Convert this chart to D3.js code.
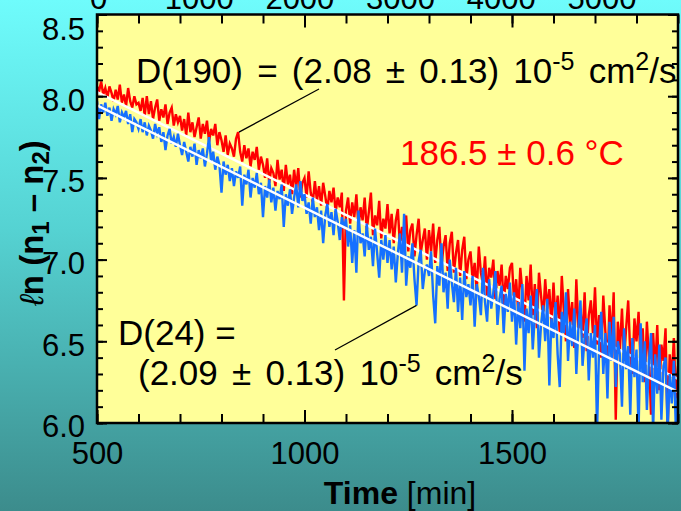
<!DOCTYPE html>
<html>
<head>
<meta charset="utf-8">
<script src="https://cdn.jsdelivr.net/npm/d3@7"></script>
<style>
  html, body { margin: 0; padding: 0; overflow: hidden; }
  svg { display: block; }
</style>
</head>
<body>
<div id="chart"></div>
<script>
// time axis of the measured series [min]
const timeStart = 500;
const timeEnd = 1900;
const timeStep = 5;

// ln(n1 - n2), one value every 5 min
const redValues = [
  8.06, 8.03, 8.09, 8.01, 8.05, 7.99, 8.06, 8.02, 7.97, 8.04, 7.98, 8.07, 7.96, 8.01, 7.94, 8.05, 7.97, 7.93, 8.00, 7.95,
  7.96, 7.91, 7.99, 7.88, 8.00, 7.89, 7.97, 7.86, 7.93, 7.98, 7.85, 7.92, 7.87, 7.95, 7.83, 7.90, 7.93, 7.82, 7.89, 7.84,
  7.88, 7.79, 7.86, 7.76, 7.90, 7.78, 7.84, 7.75, 7.81, 7.87, 7.74, 7.83, 7.77, 7.85, 7.72, 7.80, 7.76, 7.83, 7.70, 7.78,
  7.73, 7.66, 7.76, 7.64, 7.71, 7.68, 7.63, 7.74, 7.78, 7.66, 7.60, 7.70, 7.62, 7.68, 7.57, 7.66, 7.61, 7.69, 7.55, 7.63,
  7.58, 7.50, 7.62, 7.47, 7.56, 7.53, 7.45, 7.61, 7.49, 7.55, 7.42, 7.58, 7.46, 7.52, 7.40, 7.55, 7.44, 7.56, 7.38, 7.47,
  7.50, 7.38, 7.54, 7.41, 7.35, 7.48, 7.36, 7.45, 7.33, 7.47, 7.39, 7.30, 7.42, 7.35, 7.44, 7.29, 7.38, 7.32, 7.41, 6.75,
  7.30, 7.38, 7.22, 7.35, 7.26, 7.40, 7.20, 7.32, 7.24, 7.38, 7.18, 7.29, 7.41, 7.15, 7.27, 7.21, 7.36, 7.13, 7.25, 7.19,
  7.34, 7.16, 7.28, 7.10, 7.24, 7.31, 7.08, 7.20, 7.14, 7.27, 7.05, 7.18, 7.22, 7.02, 7.15, 7.25, 7.04, 7.12, 7.19, 7.00,
  7.18, 7.05, 7.22, 6.98, 7.12, 7.20, 6.96, 7.08, 7.15, 6.93, 7.10, 7.17, 6.92, 7.04, 7.12, 6.90, 7.06, 7.14, 6.88, 7.00,
  7.05, 6.88, 6.98, 6.80, 7.08, 6.92, 6.85, 7.02, 6.78, 6.95, 6.89, 7.00, 6.76, 6.93, 6.84, 6.97, 6.72, 6.90, 6.82, 6.95,
  6.98, 6.74, 6.88, 6.68, 6.95, 6.80, 6.62, 6.90, 6.75, 6.97, 6.66, 6.85, 6.58, 6.92, 6.78, 6.64, 6.88, 6.70, 6.82, 6.60,
  6.86, 6.62, 6.78, 6.55, 6.90, 6.68, 6.50, 6.82, 6.60, 6.74, 6.46, 6.88, 6.58, 6.70, 6.52, 6.80, 6.44, 6.66, 6.75, 6.55,
  6.83, 6.48, 6.66, 6.40, 6.78, 6.56, 6.35, 6.72, 6.50, 6.80, 6.02, 6.62, 6.45, 6.70, 6.38, 6.58, 6.75, 6.42, 6.30, 6.64,
  6.50, 6.68, 6.35, 6.58, 6.25, 6.62, 6.40, 6.05, 6.55, 6.32, 6.60, 6.20, 6.48, 6.38, 6.58, 5.95, 6.42, 6.28, 6.52, 6.15,
  6.35
];

const blueValues = [
  7.97, 7.86, 7.95, 7.90, 7.96, 7.88, 7.93, 7.85, 7.92, 7.89, 7.94, 7.84, 7.90, 7.87, 7.91, 7.83, 7.89, 7.78, 7.86, 7.84,
  7.80, 7.86, 7.78, 7.84, 7.76, 7.82, 7.79, 7.74, 7.83, 7.77, 7.81, 7.72, 7.78, 7.67, 7.76, 7.80, 7.71, 7.75, 7.69, 7.77,
  7.70, 7.64, 7.72, 7.66, 7.60, 7.69, 7.63, 7.71, 7.58, 7.67, 7.62, 7.68, 7.57, 7.65, 7.75, 7.60, 7.66, 7.55, 7.63, 7.58,
  7.41, 7.60, 7.52, 7.58, 7.48, 7.56, 7.45, 7.54, 7.50, 7.57, 7.33, 7.52, 7.46, 7.55, 7.38, 7.50, 7.44, 7.53, 7.40, 7.47,
  7.26, 7.45, 7.38, 7.49, 7.35, 7.44, 7.30, 7.42, 7.37, 7.46, 7.20, 7.40, 7.33, 7.43, 7.28, 7.38, 7.46, 7.32, 7.48, 7.36,
  7.40, 7.28, 7.35, 7.22, 7.38, 7.26, 7.32, 7.18, 7.30, 7.10, 7.27, 7.34, 7.20, 7.29, 7.15, 7.31, 7.23, 7.12, 7.26, 7.19,
  7.25, 7.08, 7.21, 6.98, 7.18, 6.92, 7.30, 7.10, 7.16, 7.02, 7.22, 7.06, 7.14, 6.96, 7.19, 7.04, 6.89, 7.12, 7.00, 7.15,
  6.98, 7.12, 6.94, 7.08, 6.86, 7.04, 7.16, 6.92, 7.28, 6.84, 7.02, 6.95, 7.10, 6.88, 6.72, 6.99, 7.06, 6.82, 6.93, 6.97,
  6.90, 7.05, 6.78, 6.61, 6.96, 6.84, 7.10, 6.80, 6.92, 6.70, 7.00, 6.86, 6.74, 6.95, 6.68, 6.89, 6.63, 6.93, 6.77, 6.85,
  6.72, 6.90, 6.59, 6.85, 6.78, 6.66, 6.95, 6.74, 6.62, 6.88, 6.70, 6.80, 6.93, 6.60, 6.76, 6.84, 6.55, 6.79, 6.68, 6.86,
  6.62, 6.80, 6.48, 6.74, 6.58, 6.85, 6.32, 6.70, 6.55, 6.78, 6.45, 6.66, 6.82, 6.40, 6.60, 6.72, 6.50, 6.76, 6.23, 6.64,
  6.52, 6.74, 6.42, 6.22, 6.68, 6.55, 6.80, 6.38, 6.62, 6.47, 6.70, 6.30, 6.58, 6.75, 6.35, 6.52, 6.64, 6.26, 6.55, 6.40,
  6.60, 5.95, 6.48, 6.68, 6.30, 6.55, 6.15, 6.62, 6.38, 6.65, 6.22, 6.50, 6.42, 6.10, 6.58, 6.33, 6.47, 6.05, 6.52, 6.28,
  6.45, 5.95, 6.61, 6.25, 6.50, 6.08, 6.38, 6.55, 5.95, 6.42, 6.18, 6.48, 6.02, 6.35, 6.40, 5.95, 6.30, 6.12, 6.38, 5.95,
  6.20
];

// straight-line fits (white)
const fitTimes = [500, 1900];
const redFit = [8.025, 6.27];
const blueFit = [7.944, 6.19];

// ticks
const xMajor = [500, 1000, 1500];
const yMajor = [6.0, 6.5, 7.0, 7.5, 8.0, 8.5];
const topLabels = [0, 1000, 2000, 3000, 4000, 5000];

function makeChart(containerSelector) {
    const width = 681, height = 511;
    const plot = { left: 97, right: 678, top: 14.5, bottom: 423 };
    const font = "'Liberation Sans', Arial, Helvetica, sans-serif";

    d3.select(containerSelector).html("");

    const svg = d3.select(containerSelector)
        .append("svg")
        .attr("width", width)
        .attr("height", height)
        .attr("viewBox", `0 0 ${width} ${height}`)
        .attr("xmlns", "http://www.w3.org/2000/svg");

    const defs = svg.append("defs");

    // background gradient, cyan to teal
    const bg = defs.append("linearGradient")
        .attr("id", "bg-gradient")
        .attr("x1", 0).attr("y1", 0).attr("x2", 0).attr("y2", 1);
    bg.append("stop").attr("offset", "0%").attr("stop-color", "#6ffcfc");
    bg.append("stop").attr("offset", "45%").attr("stop-color", "#55d2d2");
    bg.append("stop").attr("offset", "100%").attr("stop-color", "#3c8c8c");

    defs.append("clipPath")
        .attr("id", "plot-clip")
        .append("rect")
        .attr("x", plot.left)
        .attr("y", plot.top)
        .attr("width", plot.right - plot.left)
        .attr("height", plot.bottom - plot.top);

    svg.append("rect")
        .attr("width", width)
        .attr("height", height)
        .attr("fill", "url(#bg-gradient)");

    svg.append("rect")
        .attr("x", plot.left)
        .attr("y", plot.top)
        .attr("width", plot.right - plot.left)
        .attr("height", plot.bottom - plot.top)
        .attr("fill", "#ffff99");

    // scales
    const xScale = d3.scaleLinear().domain([500, 1900]).range([plot.left, plot.right]);
    const yScale = d3.scaleLinear().domain([6.0, 8.5]).range([plot.bottom, plot.top]);
    const topScale = d3.scaleLinear().domain([0, 5760]).range([98.5, 678.5]);

    const times = d3.range(timeStart, timeEnd + 1, timeStep);
    const redData = redValues.map((v, i) => ({ t: times[i], v: v }));
    const blueData = blueValues.map((v, i) => ({ t: times[i], v: v }));
    const redFitData = fitTimes.map((t, i) => ({ t: t, v: redFit[i] }));
    const blueFitData = fitTimes.map((t, i) => ({ t: t, v: blueFit[i] }));

    const line = d3.line()
        .x(d => xScale(d.t))
        .y(d => yScale(d.v));

    const g = svg.append("g").attr("clip-path", "url(#plot-clip)");

    g.append("path")
        .datum(redData)
        .attr("d", line)
        .attr("fill", "none")
        .attr("stroke", "#ff0000")
        .attr("stroke-width", 2.4)
        .attr("stroke-linejoin", "miter");

    g.append("path")
        .datum(redFitData)
        .attr("d", line)
        .attr("fill", "none")
        .attr("stroke", "#ffffff")
        .attr("stroke-width", 2.5);

    g.append("path")
        .datum(blueData)
        .attr("d", line)
        .attr("fill", "none")
        .attr("stroke", "#1570ff")
        .attr("stroke-width", 2.4)
        .attr("stroke-linejoin", "miter");

    g.append("path")
        .datum(blueFitData)
        .attr("d", line)
        .attr("fill", "none")
        .attr("stroke", "#ffffff")
        .attr("stroke-width", 2.5);

    // inward ticks on all four sides
    const xMinor = d3.range(500, 1901, 100);
    const yMinor = d3.range(60, 86, 1).map(d => d / 10);

    function styleTicks(sel) {
        sel.select(".domain").remove();
        sel.selectAll(".tick line").attr("stroke", "#000").attr("stroke-width", 2);
    }

    svg.append("g")
        .attr("transform", `translate(0,${plot.bottom})`)
        .call(d3.axisBottom(xScale).tickValues(xMinor).tickSizeInner(-9).tickFormat(""))
        .call(styleTicks);
    svg.append("g")
        .attr("transform", `translate(0,${plot.top})`)
        .call(d3.axisTop(xScale).tickValues(xMinor).tickSizeInner(-9).tickFormat(""))
        .call(styleTicks);
    svg.append("g")
        .attr("transform", `translate(0,${plot.top})`)
        .call(d3.axisTop(xScale).tickValues(xMajor).tickSizeInner(-13).tickFormat(""))
        .call(styleTicks);

    const xAxis = svg.append("g")
        .attr("transform", `translate(0,${plot.bottom})`)
        .call(d3.axisBottom(xScale).tickValues(xMajor).tickSizeInner(-13).tickPadding(19).tickFormat(d3.format("d")))
        .call(styleTicks);
    xAxis.selectAll("text")
        .attr("fill", "#000")
        .style("font-family", font)
        .style("font-size", "31px");

    svg.append("g")
        .attr("transform", `translate(${plot.left},0)`)
        .call(d3.axisLeft(yScale).tickValues(yMinor).tickSizeInner(-6).tickFormat(""))
        .call(styleTicks);
    svg.append("g")
        .attr("transform", `translate(${plot.right},0)`)
        .call(d3.axisRight(yScale).tickValues(yMinor).tickSizeInner(-6).tickFormat(""))
        .call(styleTicks);
    svg.append("g")
        .attr("transform", `translate(${plot.right},0)`)
        .call(d3.axisRight(yScale).tickValues(yMajor).tickSizeInner(-10).tickFormat(""))
        .call(styleTicks);

    const yAxis = svg.append("g")
        .attr("transform", `translate(${plot.left},0)`)
        .call(d3.axisLeft(yScale).tickValues(yMajor).tickSizeInner(-10).tickPadding(12).tickFormat(d3.format(".1f")))
        .call(styleTicks);
    yAxis.selectAll("text")
        .attr("fill", "#000")
        .attr("dy", d => d === 8.5 ? "0.82em" : "0.45em")
        .style("font-family", font)
        .style("font-size", "31px");

    // secondary scale labels along the top edge (cut off by the page edge, as in the source)
    svg.append("g")
        .selectAll("text")
        .data(topLabels)
        .enter()
        .append("text")
        .attr("x", d => topScale(d))
        .attr("y", 8.5)
        .attr("text-anchor", "middle")
        .style("font-family", font)
        .style("font-size", "31px")
        .text(d => d);

    // frame
    svg.append("rect")
        .attr("x", plot.left)
        .attr("y", plot.top)
        .attr("width", plot.right - plot.left)
        .attr("height", plot.bottom - plot.top)
        .attr("fill", "none")
        .attr("stroke", "#000")
        .attr("stroke-width", 2.5);

    // axis titles
    const xTitle = svg.append("text")
        .attr("x", 400)
        .attr("y", 504)
        .attr("text-anchor", "middle")
        .style("font-family", font)
        .style("font-size", "32px");
    xTitle.append("tspan").style("font-weight", "bold").text("Time");
    xTitle.append("tspan").text(" [min]");

    const yTitle = svg.append("text")
        .attr("transform", "translate(43,223) rotate(-90)")
        .attr("text-anchor", "middle")
        .style("font-family", font)
        .style("font-size", "33px")
        .style("font-weight", "bold");
    yTitle.append("tspan").style("font-weight", "normal").style("font-style", "italic").text("\u2113");
    yTitle.append("tspan").text("n (n");
    yTitle.append("tspan").attr("dy", 6).style("font-size", "24px").text("1");
    yTitle.append("tspan").attr("dy", -6).text(" \u2013 n");
    yTitle.append("tspan").attr("dy", 6).style("font-size", "24px").text("2");
    yTitle.append("tspan").attr("dy", -6).text(")");

    // annotations
    function diffusionText(sel, prefix) {
        sel.append("tspan").text(prefix + " 10");
        sel.append("tspan").attr("dy", -13).style("font-size", "25px").text("-5");
        sel.append("tspan").attr("dy", 13).text(" cm");
        sel.append("tspan").attr("dy", -13).style("font-size", "25px").text("2");
        sel.append("tspan").attr("dy", 13).text("/s");
    }

    const ann1 = svg.append("text")
        .attr("x", 136)
        .attr("y", 83)
        .style("font-family", font)
        .style("font-size", "35px")
        .style("word-spacing", "4.5px");
    diffusionText(ann1, "D(190) = (2.08 \u00b1 0.13)");

    svg.append("line")
        .attr("x1", 319).attr("y1", 89)
        .attr("x2", xScale(842)).attr("y2", yScale(7.78))
        .attr("stroke", "#000")
        .attr("stroke-width", 1.2);

    svg.append("text")
        .attr("x", 118)
        .attr("y", 345)
        .style("font-family", font)
        .style("font-size", "35px")
        .text("D(24) =");

    const ann2 = svg.append("text")
        .attr("x", 138)
        .attr("y", 385)
        .style("font-family", font)
        .style("font-size", "35px")
        .style("word-spacing", "4.5px");
    diffusionText(ann2, "(2.09 \u00b1 0.13)");

    svg.append("line")
        .attr("x1", 335).attr("y1", 350)
        .attr("x2", xScale(1270)).attr("y2", yScale(6.72))
        .attr("stroke", "#000")
        .attr("stroke-width", 1.2);

    svg.append("text")
        .attr("x", 400)
        .attr("y", 165)
        .attr("fill", "#ff0000")
        .style("font-family", font)
        .style("font-size", "35px")
        .text("186.5 \u00b1 0.6 \u00b0C");

    return svg.node();
}

makeChart("#chart");
</script>
</body>
</html>
